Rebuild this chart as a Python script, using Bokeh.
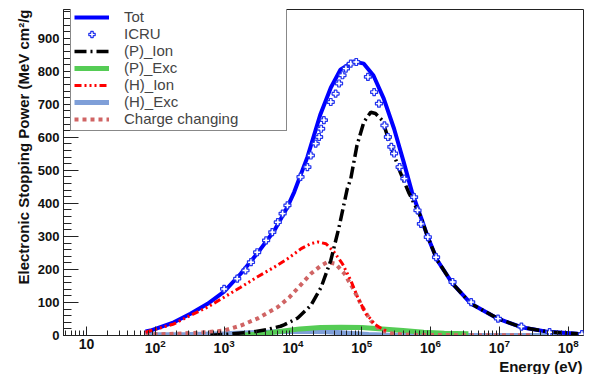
import numpy as np
from bokeh.plotting import figure
from bokeh.models import (Range1d, LogTickFormatter, LogTicker, SingleIntervalTicker,
                          Legend, LegendItem, Title)
from bokeh.embed import file_html
from bokeh.resources import INLINE

# ---------------- data (energy in eV, stopping power in MeV cm^2/g) ----------------
tot_E = [72, 85, 186, 324, 575, 1000, 1738, 3020, 5370, 8318, 10470, 16220, 25120,
         35480, 48980, 75860, 107150, 147900, 208900, 295100, 407400, 537000,
         724400, 912000, 1.259e6, 2.089e6, 3.89e6, 9.55e6, 2.09e7, 5.13e7, 1.38e8, 1.67e8]
tot_S = [12, 15, 40, 66, 96, 133, 187, 248, 318, 389, 435, 540, 670,
         750, 805, 830, 823, 787, 717, 626, 525, 434,
         358, 298, 227, 157, 96, 51, 25, 11, 5.5, 4.5]

icru_E = [1000, 1549, 2042, 2455, 3020, 4074, 5012, 6026, 7079, 8318, 12880, 16220,
          18200, 21380, 23990, 25700, 28180, 35480, 41690, 46770, 52480, 58880, 69180,
          83180, 123000, 151400, 177800, 213800, 239900, 269200, 295100, 354800, 416900,
          575400, 645700, 724400, 912000, 1.202e6, 2.089e6, 3.89e6, 9.55e6, 2.09e7,
          5.37e7, 1.585e8]
icru_S = [141, 172, 197, 222, 252, 288, 313, 343, 369, 394, 480, 510,
          545, 581, 601, 626, 652, 707, 732, 763, 788, 808, 823,
          828, 783, 737, 702, 636, 601, 571, 551, 510, 475,
          419, 379, 338, 298, 237, 162, 101, 51, 27,
          10, 4]

pion_E = [631, 1000, 2455, 4169, 6607, 7413, 11750, 18200, 25700, 35480, 46770, 61660,
          69180, 85110, 107150, 134900, 158500, 199500, 263000, 363100, 478600, 724400,
          912000, 1.259e6, 2.089e6, 3.89e6, 9.55e6, 2.09e7, 5.13e7, 1.38e8, 1.67e8]
pion_S = [1, 3, 10, 18, 28, 32, 53, 91, 146, 227, 328, 445,
          474, 575, 646, 676, 672, 651, 575, 494, 434, 358,
          298, 227, 157, 96, 51, 25, 11, 5.5, 4.5]

pexc_E = [1778, 3162, 6310, 12590, 25120, 50120, 100000, 199500, 398100, 794300,
          1.585e6, 3.548e6]
pexc_S = [0.5, 4, 12, 20, 24, 25, 24, 20, 15, 10, 7, 5]

hion_E = [72, 186, 324, 575, 1000, 1738, 3020, 5370, 8318, 11750, 13180, 18200,
          22910, 30200, 39810, 52480, 69180, 87100, 114800, 134900, 151400, 190500, 239900]
hion_S = [10, 35, 61, 86, 116, 146, 177, 207, 232, 255, 263, 278,
          283, 278, 252, 217, 167, 116, 66, 50, 35, 22, 12]

hexc_E = [72, 316, 1000, 3162, 7943, 15850, 31620, 63100, 125900, 251200, 1e6, 1e7, 1.67e8]
hexc_S = [2, 3, 5, 9, 12, 13, 11, 7, 3, 1, 0.5, 0.3, 0.2]

cc_E = [72, 186, 575, 1000, 1738, 3020, 6026, 8913, 12590, 18200, 25700, 31620, 41690,
        56230, 77620, 102300, 134900, 190500, 295100, 575400, 3.162e6, 3.162e7]
cc_S = [3, 5, 10, 15, 30, 51, 86, 116, 150, 187, 212, 222, 217,
        187, 136, 86, 45, 15, 5, 1.5, 1, 1]

y_ticks_interval = 100
legend_labels = ["Tot", "ICRU", "(P)_Ion", "(P)_Exc", "(H)_Ion", "(H)_Exc", "Charge changing"]
y_title = "Electronic Stopping Power (MeV cm\u00b2/g"
x_title = "Energy (eV)"

FONT = "Liberation Sans"
W, H = 590, 374

p = figure(width=W, height=H, x_axis_type="log",
           x_range=Range1d(4.63, 1.67e8), y_range=Range1d(0, 987),
           output_backend="svg", toolbar_location=None,
           min_border_left=63, min_border_right=7, min_border_top=9, min_border_bottom=39)
p.grid.visible = False
p.outline_line_color = "#222222"
p.outline_line_width = 1
p.background_fill_color = "white"
p.border_fill_color = "white"

# axes styling (ROOT-like, ticks inside)
p.xaxis.ticker = LogTicker(num_minor_ticks=10)
p.xaxis.formatter = LogTickFormatter(min_exponent=2)
p.xaxis.major_tick_in = 9
p.xaxis.major_tick_out = 0
p.xaxis.minor_tick_in = 5
p.xaxis.minor_tick_out = 0
p.xaxis.major_label_standoff = 3
p.xaxis.major_label_text_font = FONT
p.xaxis.major_label_text_font_style = "bold"
p.xaxis.major_label_text_font_size = "14px"
p.xaxis.major_label_text_color = "#111111"

p.yaxis.ticker = SingleIntervalTicker(interval=y_ticks_interval, num_minor_ticks=5)
p.yaxis.major_tick_in = 15
p.yaxis.major_tick_out = 0
p.yaxis.minor_tick_in = 8
p.yaxis.minor_tick_out = 0
p.yaxis.major_label_standoff = 4
p.yaxis.major_label_text_font = FONT
p.yaxis.major_label_text_font_style = "bold"
p.yaxis.major_label_text_font_size = "13px"
p.yaxis.major_label_text_color = "#111111"
for ax in (p.xaxis, p.yaxis):
    ax.axis_line_color = "#222222"
    ax.major_tick_line_color = "#222222"
    ax.minor_tick_line_color = "#222222"

# curves
r_hexc = p.line(hexc_E, hexc_S, line_color="#7f9fd8", line_width=5)
r_pexc = p.line(pexc_E, pexc_S, line_color="#55cc55", line_width=5)
r_cc = p.line(cc_E, cc_S, line_color="#d06464", line_width=4, line_dash="4 4")
r_tot = p.line(tot_E, tot_S, line_color="#0000ff", line_width=4)
r_hion = p.line(hion_E, hion_S, line_color="#ff0000", line_width=3,
                line_dash="7 3 2 3 2 3 2 3")
r_pion = p.line(pion_E, pion_S, line_color="#000000", line_width=3.5,
                line_dash="12 4 2 4")
r_icru = p.scatter(icru_E, icru_S, marker="plus", size=7, line_color="#2233ee",
                   fill_color="white", line_width=1.2)

legend = Legend(items=[
    LegendItem(label=legend_labels[0], renderers=[r_tot]),
    LegendItem(label=legend_labels[1], renderers=[r_icru]),
    LegendItem(label=legend_labels[2], renderers=[r_pion]),
    LegendItem(label=legend_labels[3], renderers=[r_pexc]),
    LegendItem(label=legend_labels[4], renderers=[r_hion]),
    LegendItem(label=legend_labels[5], renderers=[r_hexc]),
    LegendItem(label=legend_labels[6], renderers=[r_cc]),
], location=(7, 204))
legend.border_line_color = "#111111"
legend.border_line_width = 1
legend.background_fill_alpha = 1
legend.label_text_font = FONT
legend.label_text_font_size = "15px"
legend.glyph_width = 35
legend.glyph_height = 16
legend.label_height = 16
legend.spacing = 0
legend.padding = 3
legend.margin = 0
legend.label_standoff = 15
legend.label_width = 159
p.add_layout(legend)

yt = Title(text=y_title, align="right", text_font=FONT, text_font_size="15px",
           text_font_style="bold", text_color="#111111", standoff=6, offset=0)
p.add_layout(yt, "left")

xt = Title(text=x_title, align="right", text_font=FONT, text_font_size="15px",
           text_font_style="bold", text_color="#111111", standoff=0, offset=1)
p.add_layout(xt, "below")

open("out.html", "w").write(file_html(p, INLINE))
